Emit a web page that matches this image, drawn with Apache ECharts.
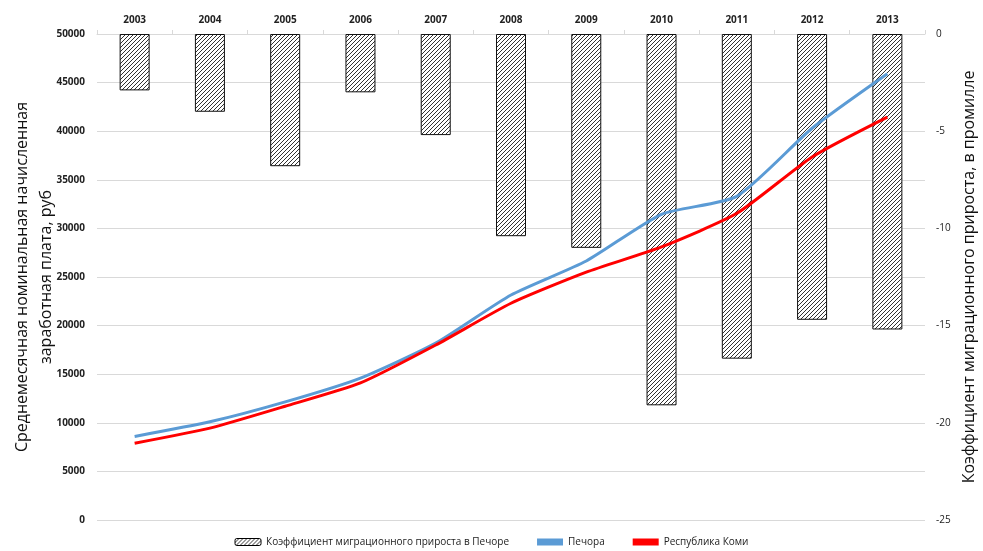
<!DOCTYPE html>
<html>
<head>
<meta charset="utf-8">
<script src="https://cdn.jsdelivr.net/npm/echarts@6/dist/echarts.min.js"></script>
<style>
    html, body { margin: 0; padding: 0; background: #fff; }
    #chart { width: 983px; height: 551px; }
</style>
</head>
<body>
<div id="chart"></div>
<script>
'use strict';
const years = ['2003', '2004', '2005', '2006', '2007', '2008', '2009', '2010', '2011', '2012', '2013'];
// коэффициент миграционного прироста, промилле
const migration = [-2.9, -4.0, -6.8, -3.0, -5.2, -10.4, -11.0, -19.1, -16.7, -14.7, -15.2];
// средняя зарплата, руб
const pechora = [8600, 10100, 12150, 14600, 18200, 23150, 26650, 31450, 33300, 40300, 45900];
const komi = [7900, 9450, 11700, 14100, 18000, 22300, 25500, 28100, 31550, 37350, 41450];
const leftTicks = [0, 50000, 5000];
const rightTicks = [-25, 0, 5];

// штриховка для столбцов
function makeHatch() {
    let c = document.createElement('canvas');
    c.width = 4;
    c.height = 4;
    let ctx = c.getContext('2d');
    ctx.fillStyle = '#fff';
    ctx.fillRect(0, 0, 4, 4);
    ctx.strokeStyle = '#333';
    ctx.lineWidth = 1;
    ctx.beginPath();
    ctx.moveTo(-1, 5); ctx.lineTo(5, -1);
    ctx.moveTo(-1, 1); ctx.lineTo(1, -1);
    ctx.moveTo(3, 5); ctx.lineTo(5, 3);
    ctx.stroke();
    return c;
}
const hatch = { image: makeHatch(), repeat: 'repeat' };

const font = '"Open Sans", "Noto Sans", sans-serif';
let myChart = echarts.init(document.getElementById('chart'));

let option = {
    animation: false,
    textStyle: { fontFamily: font },
    grid: { left: 97, right: 58, top: 34, bottom: 31, containLabel: false, outerBoundsMode: 'none' },
    legend: {
        bottom: -1,
        left: 'center',
        itemGap: 28,
        itemWidth: 26,
        itemHeight: 7,
        textStyle: { fontSize: 10, color: '#222', fontFamily: font },
        data: [
            { name: 'Коэффициент миграционного прироста в Печоре', itemStyle: { color: hatch, borderColor: '#000', borderWidth: 1 } },
            { name: 'Печора', icon: 'rect', itemHeight: 4, itemStyle: { color: '#5B9BD5' } },
            { name: 'Республика Коми', icon: 'rect', itemHeight: 4, itemStyle: { color: '#FF0000' } }
        ]
    },
    xAxis: {
        type: 'category',
        position: 'top',
        data: years,
        boundaryGap: true,
        axisLine: { onZero: false, lineStyle: { color: '#d9d9d9' } },
        axisTick: { show: true, inside: false, length: 4, lineStyle: { color: '#d9d9d9' } },
        axisLabel: { fontSize: 10, fontWeight: 'bold', color: '#222', margin: 9 }
    },
    yAxis: [{
        type: 'value',
        min: leftTicks[0],
        max: leftTicks[1],
        interval: leftTicks[2],
        name: 'Среднемесячная номинальная начисленная\nзаработная плата, руб',
        nameLocation: 'middle',
        nameRotate: 90,
        nameGap: 39,
        nameMoveOverlap: false,
        nameTextStyle: { fontSize: 16, color: '#111', lineHeight: 24, fontWeight: 500 },
        axisLine: { show: false },
        axisTick: { show: false },
        axisLabel: { fontSize: 10, fontWeight: 'bold', color: '#222', margin: 12, formatter: function(v) { return String(v); } },
        splitLine: { lineStyle: { color: '#d9d9d9' } }
    }, {
        type: 'value',
        min: rightTicks[0],
        max: rightTicks[1],
        interval: rightTicks[2],
        name: 'Коэффициент миграционного прироста, в промилле',
        nameLocation: 'middle',
        nameRotate: 90,
        nameGap: 35,
        nameTextStyle: { fontSize: 16, color: '#111', fontWeight: 500 },
        axisLine: { show: false },
        axisTick: { show: false },
        axisLabel: { fontSize: 10, color: '#222', margin: 11 },
        splitLine: { show: false }
    }],
    series: [{
        name: 'Коэффициент миграционного прироста в Печоре',
        type: 'bar',
        yAxisIndex: 1,
        barWidth: 30,
        data: migration,
        itemStyle: { color: hatch, borderColor: '#111', borderWidth: 1 }
    }, {
        name: 'Печора',
        type: 'line',
        yAxisIndex: 0,
        data: pechora,
        smooth: 0.2,
        symbol: 'none',
        lineStyle: { color: '#5B9BD5', width: 3 },
        itemStyle: { color: '#5B9BD5' }
    }, {
        name: 'Республика Коми',
        type: 'line',
        yAxisIndex: 0,
        data: komi,
        smooth: 0.2,
        symbol: 'none',
        lineStyle: { color: '#FF0000', width: 3 },
        itemStyle: { color: '#FF0000' }
    }]
};

myChart.setOption(option);
</script>
</body>
</html>
